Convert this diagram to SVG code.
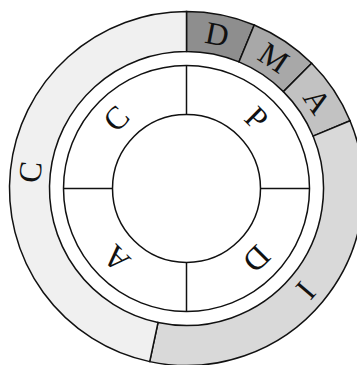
<svg xmlns="http://www.w3.org/2000/svg" width="357" height="365" viewBox="0 0 357 365">
<style>
.seg{stroke:#111;stroke-width:1.5}
.ln{stroke:#111;stroke-width:1.5;fill:none}
.lbl{font-family:"Liberation Serif","Times New Roman",serif;font-size:32px;fill:#111;text-anchor:middle}
</style>
<rect width="357" height="365" fill="#fff"/>
<g id="outer-ring">
<g id="seg-D"><path class="seg" fill="#8e8e8e" d="M186.5 11.5 A177 177 0 0 1 254.24 24.97 L238.93 61.93 A137 137 0 0 0 186.5 51.5 Z"/>
<text class="lbl" transform="rotate(11.25 186.5 188.5)" x="186.5" y="42">D</text></g>
<g id="seg-M"><path class="seg" fill="#a8a8a8" d="M254.24 24.97 A177 177 0 0 1 311.66 63.34 L283.37 91.63 A137 137 0 0 0 238.93 61.93 Z"/>
<text class="lbl" transform="rotate(33.75 186.5 188.5)" x="186.5" y="42">M</text></g>
<g id="seg-A"><path class="seg" fill="#c2c2c2" d="M311.66 63.34 A177 177 0 0 1 350.03 120.76 L313.07 136.07 A137 137 0 0 0 283.37 91.63 Z"/>
<text class="lbl" transform="rotate(56.25 186.5 188.5)" x="186.5" y="42">A</text></g>
<g id="seg-I"><path class="seg" fill="#d9d9d9" d="M350.03 120.76 A177 177 0 0 1 149.70 361.63 L158.02 322.51 A137 137 0 0 0 313.07 136.07 Z"/>
<text class="lbl" transform="rotate(130.5 186.5 188.5)" x="186.5" y="42">I</text></g>
<g id="seg-C"><path class="seg" fill="#f0f0f0" d="M149.70 361.63 A177 177 0 0 1 186.5 11.5 L186.5 51.5 A137 137 0 0 0 158.02 322.51 Z"/>
<text class="lbl" transform="rotate(276 186.5 188.5)" x="186.5" y="42">C</text></g>
</g>
<g id="inner-ring">
<circle class="ln" cx="186.5" cy="188.5" r="123"/>
<circle class="ln" cx="186.5" cy="188.5" r="74"/>
</g>
<g id="connectors">
<line class="ln" x1="186.5" y1="65.5" x2="186.5" y2="114.5"/>
<line class="ln" x1="186.5" y1="262.5" x2="186.5" y2="311.5"/>
<line class="ln" x1="63.5" y1="188.5" x2="112.5" y2="188.5"/>
<line class="ln" x1="260.5" y1="188.5" x2="309.5" y2="188.5"/>
</g>
<g id="q-C"><text class="lbl" transform="rotate(-45 186.5 188.5)" x="186.5" y="100">C</text></g>
<g id="q-P"><text class="lbl" transform="rotate(45 186.5 188.5)" x="186.5" y="100">P</text></g>
<g id="q-D"><text class="lbl" transform="rotate(135 186.5 188.5)" x="186.5" y="100">D</text></g>
<g id="q-A"><text class="lbl" transform="rotate(225 186.5 188.5)" x="186.5" y="100">A</text></g>
</svg>
